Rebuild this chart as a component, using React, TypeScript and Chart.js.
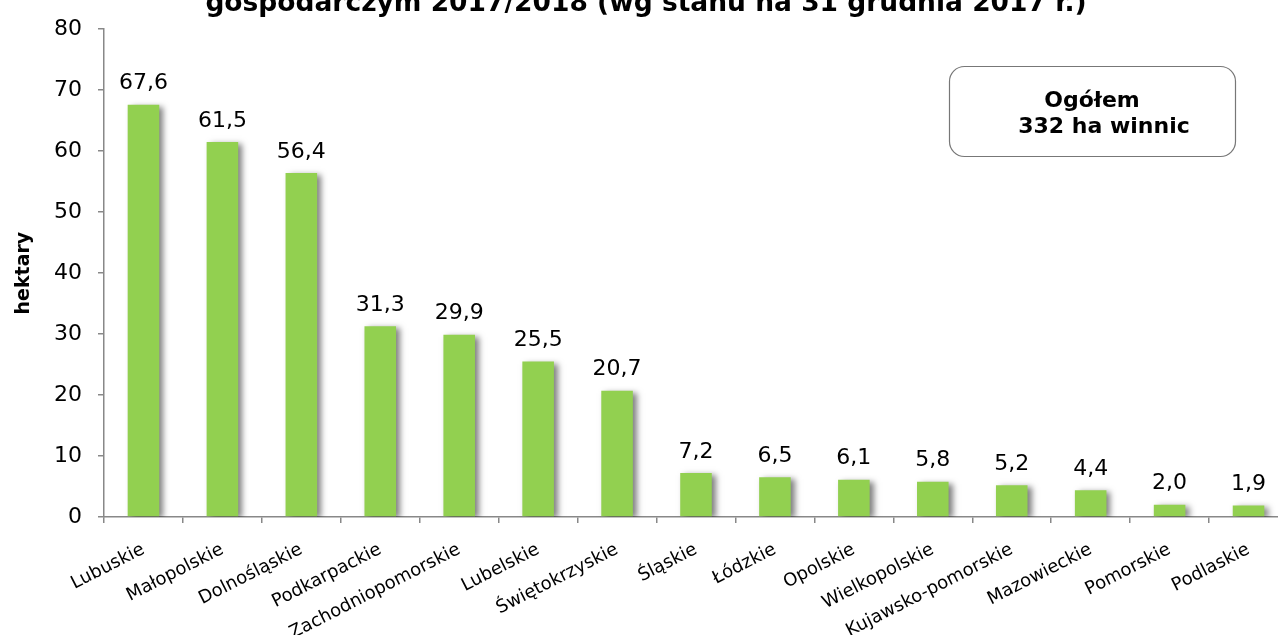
import { useEffect, useRef } from 'react';
import { Chart, registerables } from 'chart.js';

Chart.register(...registerables);

const categories: string[] = [
  'Lubuskie',
  'Małopolskie',
  'Dolnośląskie',
  'Podkarpackie',
  'Zachodniopomorskie',
  'Lubelskie',
  'Świętokrzyskie',
  'Śląskie',
  'Łódzkie',
  'Opolskie',
  'Wielkopolskie',
  'Kujawsko-pomorskie',
  'Mazowieckie',
  'Pomorskie',
  'Podlaskie',
];
const hectares: number[] = [67.6, 61.5, 56.4, 31.3, 29.9, 25.5, 20.7, 7.2, 6.5, 6.1, 5.8, 5.2, 4.4, 2.0, 1.9];
const yMin = 0;
const yMax = 80;
const yStep = 10;
const titleText = 'gospodarczym 2017/2018 (wg stanu na 31 grudnia 2017 r.)';
const yAxisTitle = 'hektary';
const totalLines: string[] = ['Ogółem', '332 ha winnic'];

const FONT = "'DejaVu Sans', Verdana, sans-serif";

const fmt = (v: number) => v.toFixed(1).replace('.', ',');

const decorPlugin = {
  id: 'decor',
  beforeDatasetsDraw(chart: any) {
    const ctx = chart.ctx;
    ctx.save();
    ctx.shadowColor = 'rgba(0,0,0,0.5)';
    ctx.shadowBlur = 6;
    ctx.shadowOffsetX = 4;
    ctx.shadowOffsetY = 2;
  },
  afterDatasetsDraw(chart: any) {
    const ctx = chart.ctx;
    ctx.restore();
    const meta = chart.getDatasetMeta(0);
    ctx.save();
    ctx.font = `22px ${FONT}`;
    ctx.fillStyle = '#000';
    ctx.textAlign = 'center';
    ctx.textBaseline = 'alphabetic';
    meta.data.forEach((bar: any, i: number) => {
      ctx.fillText(fmt(hectares[i]), bar.x, bar.y - 15.5);
    });
    ctx.restore();
  },
  afterDraw(chart: any) {
    const ctx = chart.ctx;
    ctx.save();
    ctx.font = `bold 26.5px ${FONT}`;
    ctx.fillStyle = '#000';
    ctx.textAlign = 'center';
    ctx.textBaseline = 'alphabetic';
    ctx.fillText(titleText, 646, 11);
    ctx.beginPath();
    ctx.roundRect(949.5, 66.5, 286, 90, 15);
    ctx.fillStyle = '#fff';
    ctx.fill();
    ctx.lineWidth = 1.2;
    ctx.strokeStyle = '#777';
    ctx.stroke();
    ctx.fillStyle = '#000';
    ctx.font = `bold 22px ${FONT}`;
    ctx.textAlign = 'left';
    const w0 = ctx.measureText(totalLines[0]).width;
    const w1 = ctx.measureText(totalLines[1]).width;
    ctx.fillText(totalLines[0], 1092 - w0 / 2, 107);
    ctx.fillText(totalLines[1], 1104 - w1 / 2, 133);
    ctx.restore();
  },
};

export default function App() {
  const ref = useRef<HTMLCanvasElement | null>(null);

  useEffect(() => {
    if (!ref.current) return;
    const chart = new Chart(ref.current, {
      type: 'bar',
      data: {
        labels: categories,
        datasets: [
          {
            data: hectares,
            backgroundColor: '#92D050',
            borderWidth: 0,
            barPercentage: 0.4,
            categoryPercentage: 1,
          },
        ],
      },
      options: {
        responsive: false,
        animation: false,
        events: [],
        layout: { padding: { top: 26, right: 12, left: 0, bottom: 0 } },
        plugins: {
          legend: { display: false },
          tooltip: { enabled: false },
          title: { display: false },
        },
        scales: {
          x: {
            type: 'category',
            offset: true,
            afterFit: (s: any) => {
              s.height = 118;
            },
            grid: {
              offset: true,
              drawOnChartArea: false,
              drawTicks: true,
              tickLength: 6,
              color: '#888',
              lineWidth: 1.5,
            },
            border: { display: true, color: '#888', width: 1.5 },
            ticks: {
              autoSkip: false,
              minRotation: 27,
              maxRotation: 27,
              padding: 16,
              color: '#000',
              font: { family: FONT, size: 18 },
            },
          },
          y: {
            min: yMin,
            max: yMax,
            afterFit: (s: any) => {
              s.width = 104;
            },
            grid: {
              drawOnChartArea: false,
              drawTicks: true,
              tickLength: 6,
              color: '#888',
              lineWidth: 1.5,
            },
            border: { display: true, color: '#888', width: 1.5 },
            ticks: {
              stepSize: yStep,
              padding: 16,
              color: '#000',
              font: { family: FONT, size: 22 },
            },
            title: {
              display: true,
              text: yAxisTitle,
              color: '#000',
              font: { family: FONT, size: 19, weight: 'bold' },
              padding: { top: 13, bottom: 0 },
            },
          },
        },
      },
      plugins: [decorPlugin],
    });
    return () => chart.destroy();
  }, []);

  return (
    <div
      style={{
        position: 'absolute',
        left: 0,
        top: 0,
        width: 1278,
        height: 635,
        overflow: 'hidden',
        background: '#fff',
      }}
    >
      <canvas ref={ref} width={1300} height={635} style={{ display: 'block' }} />
    </div>
  );
}
